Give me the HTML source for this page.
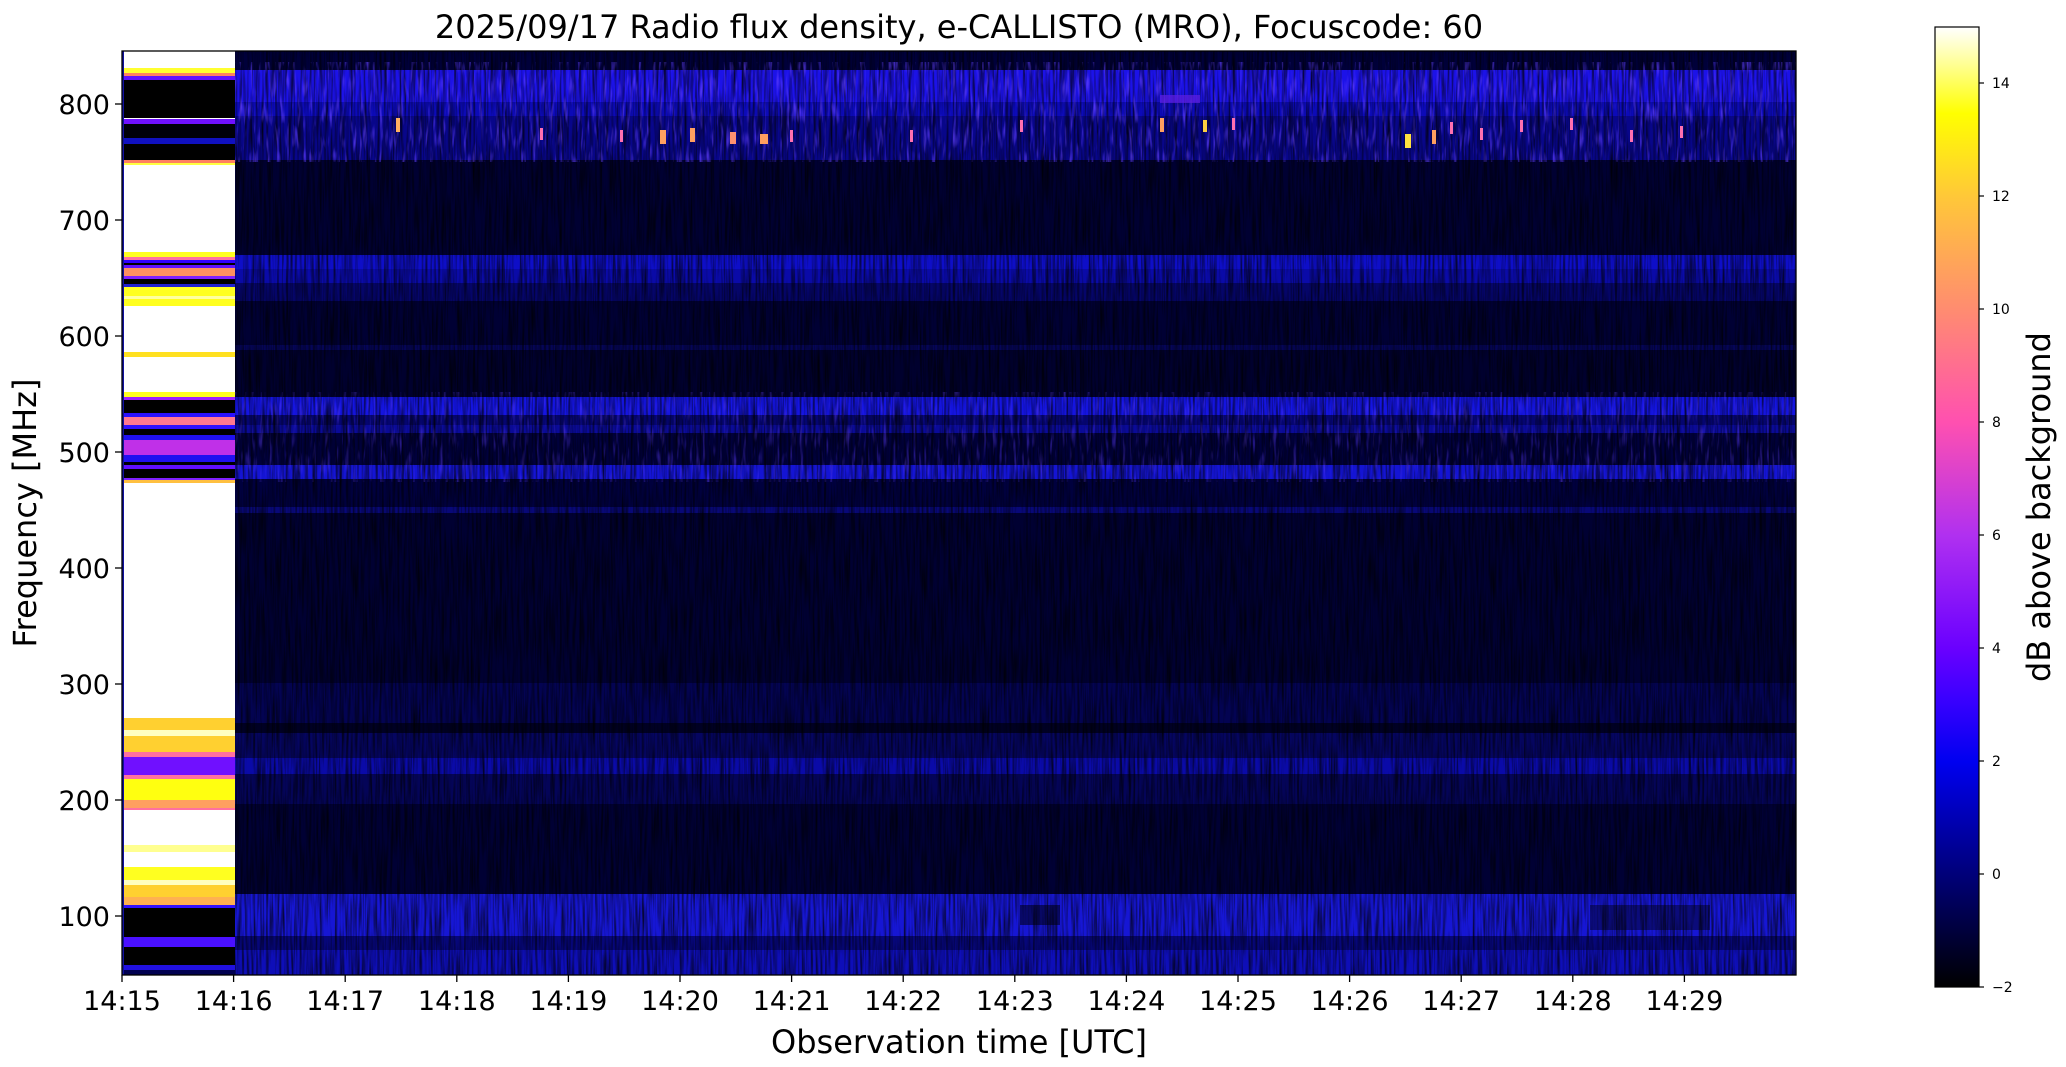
<!DOCTYPE html>
<html><head><meta charset="utf-8"><style>
html,body{margin:0;padding:0;background:#fff;}
svg{display:block;font-family:"DejaVu Sans","Liberation Sans",sans-serif;}
</style></head><body>
<svg width="2066" height="1067" viewBox="0 0 2066 1067" xmlns="http://www.w3.org/2000/svg">
<defs>
<linearGradient id="cb" x1="0" y1="1" x2="0" y2="0">
<stop offset="0" stop-color="#000000"/>
<stop offset="0.118" stop-color="#00007a"/>
<stop offset="0.235" stop-color="#0000f0"/>
<stop offset="0.3" stop-color="#3a00ff"/>
<stop offset="0.353" stop-color="#6a00ff"/>
<stop offset="0.47" stop-color="#b030f0"/>
<stop offset="0.588" stop-color="#ff50b0"/>
<stop offset="0.706" stop-color="#ff8c70"/>
<stop offset="0.824" stop-color="#ffc838"/>
<stop offset="0.91" stop-color="#ffff00"/>
<stop offset="0.96" stop-color="#ffff90"/>
<stop offset="1" stop-color="#ffffff"/>
</linearGradient>
<filter id="streak" x="0" y="0" width="100%" height="100%">
<feTurbulence type="fractalNoise" baseFrequency="0.45 0.02" numOctaves="2" seed="3"/>
<feColorMatrix type="matrix" values="0 0 0 0 0  0 0 0 0 0  0 0 0 0 0  0 0 0 -1.6 1.0"/>
</filter>
<filter id="streak2" x="0" y="0" width="100%" height="100%">
<feTurbulence type="fractalNoise" baseFrequency="0.3 0.04" numOctaves="2" seed="7"/>
<feColorMatrix type="matrix" values="0 0 0 0 0.12  0 0 0 0 0.05  0 0 0 0 1  0 0 0 2.2 -1.2"/>
</filter>
</defs>

<rect x="235" y="51" width="1561" height="924" fill="#000036"/>
<g>
<rect x="235" y="51" width="1561" height="19" fill="#00003a"/>
<rect x="235" y="70" width="1561" height="32" fill="#1c12e8"/>
<rect x="235" y="102" width="1561" height="14" fill="#0c0ab8"/>
<rect x="235" y="116" width="1561" height="44" fill="#08068a"/>
<rect x="235" y="160" width="1561" height="95" fill="#000032"/>
<rect x="235" y="255" width="1561" height="14" fill="#0e0ec8"/>
<rect x="235" y="269" width="1561" height="14" fill="#0a0aa8"/>
<rect x="235" y="283" width="1561" height="18" fill="#05056a"/>
<rect x="235" y="301" width="1561" height="44" fill="#000034"/>
<rect x="235" y="345" width="1561" height="5" fill="#050558"/>
<rect x="235" y="350" width="1561" height="47" fill="#00002e"/>
<rect x="235" y="397" width="1561" height="18" fill="#1414e0"/>
<rect x="235" y="415" width="1561" height="10" fill="#050570"/>
<rect x="235" y="425" width="1561" height="8" fill="#0a0a98"/>
<rect x="235" y="433" width="1561" height="32" fill="#00003c"/>
<rect x="235" y="465" width="1561" height="14" fill="#1414d4"/>
<rect x="235" y="479" width="1561" height="28" fill="#00003e"/>
<rect x="235" y="507" width="1561" height="6" fill="#080878"/>
<rect x="235" y="513" width="1561" height="170" fill="#000032"/>
<rect x="235" y="683" width="1561" height="40" fill="#030352"/>
<rect x="235" y="723" width="1561" height="10" fill="#000024"/>
<rect x="235" y="733" width="1561" height="25" fill="#050560"/>
<rect x="235" y="758" width="1561" height="16" fill="#0a0aa8"/>
<rect x="235" y="774" width="1561" height="30" fill="#040458"/>
<rect x="235" y="804" width="1561" height="90" fill="#000034"/>
<rect x="235" y="894" width="1561" height="42" fill="#1616d4"/>
<rect x="235" y="936" width="1561" height="14" fill="#06067a"/>
<rect x="235" y="950" width="1561" height="25" fill="#0e0eb8"/>
<rect x="1020" y="905" width="40" height="20" fill="#000020" opacity="0.6"/>
<rect x="1590" y="905" width="120" height="25" fill="#000020" opacity="0.5"/>
</g>
<rect x="235" y="51" width="1561" height="924" filter="url(#streak)"/>
<rect x="235" y="62" width="1561" height="100" filter="url(#streak2)"/>
<rect x="235" y="392" width="1561" height="90" filter="url(#streak2)" opacity="0.6"/>
<g fill="#ff70b0">
<rect x="396" y="118" width="4" height="14" fill="#ffb060"/>
<rect x="540" y="128" width="3" height="12"/>
<rect x="620" y="130" width="3" height="12"/>
<rect x="660" y="130" width="6" height="14" fill="#ffa060"/>
<rect x="690" y="128" width="5" height="14" fill="#ffa060"/>
<rect x="730" y="132" width="6" height="12" fill="#ff9070"/>
<rect x="760" y="134" width="8" height="10" fill="#ffa060"/>
<rect x="790" y="130" width="3" height="12"/>
<rect x="910" y="130" width="3" height="12"/>
<rect x="1020" y="120" width="3" height="12"/>
<rect x="1160" y="118" width="4" height="14" fill="#ffa060"/>
<rect x="1203" y="120" width="4" height="12" fill="#ffd040"/>
<rect x="1232" y="118" width="3" height="12"/>
<rect x="1405" y="134" width="6" height="14" fill="#ffe040"/>
<rect x="1432" y="130" width="4" height="14" fill="#ffa060"/>
<rect x="1450" y="122" width="3" height="12"/>
<rect x="1480" y="128" width="3" height="12"/>
<rect x="1520" y="120" width="3" height="12"/>
<rect x="1570" y="118" width="3" height="12"/>
<rect x="1630" y="130" width="3" height="12"/>
<rect x="1680" y="126" width="3" height="12"/>
<rect x="1160" y="95" width="40" height="8" fill="#6020e0" opacity="0.7"/>
</g>

<rect x="122" y="51" width="113" height="924" fill="#ffffff"/>
<g>
<rect x="122" y="68" width="113" height="5" fill="#ffff30"/>
<rect x="122" y="73" width="113" height="3" fill="#ff8060"/>
<rect x="122" y="76" width="113" height="4" fill="#6010ff"/>
<rect x="122" y="80" width="113" height="38" fill="#000000"/>
<rect x="122" y="119" width="113" height="5" fill="#7010ff"/>
<rect x="122" y="124" width="113" height="14" fill="#000008"/>
<rect x="122" y="138" width="113" height="6" fill="#1010c0"/>
<rect x="122" y="144" width="113" height="16" fill="#000000"/>
<rect x="122" y="160" width="113" height="3" fill="#ff8060"/>
<rect x="122" y="163" width="113" height="2" fill="#ffff40"/>
<rect x="122" y="252" width="113" height="5" fill="#ffff20"/>
<rect x="122" y="257" width="113" height="3" fill="#ff70a0"/>
<rect x="122" y="260" width="113" height="3" fill="#3000ff"/>
<rect x="122" y="263" width="113" height="2" fill="#000"/>
<rect x="122" y="265" width="113" height="3" fill="#6010ff"/>
<rect x="122" y="268" width="113" height="8" fill="#ff9060"/>
<rect x="122" y="276" width="113" height="3" fill="#8020ff"/>
<rect x="122" y="279" width="113" height="5" fill="#000"/>
<rect x="122" y="284" width="113" height="3" fill="#2020d0"/>
<rect x="122" y="287" width="113" height="19" fill="#ffff20"/>
<rect x="122" y="296" width="113" height="3" fill="#ffffa0"/>
<rect x="122" y="352" width="113" height="5" fill="#ffe020"/>
<rect x="122" y="392" width="113" height="5" fill="#ffff20"/>
<rect x="122" y="397" width="113" height="3" fill="#a020ff"/>
<rect x="122" y="400" width="113" height="13" fill="#000"/>
<rect x="122" y="413" width="113" height="4" fill="#2a10ff"/>
<rect x="122" y="417" width="113" height="8" fill="#ff7890"/>
<rect x="122" y="425" width="113" height="4" fill="#3010ff"/>
<rect x="122" y="429" width="113" height="6" fill="#000"/>
<rect x="122" y="435" width="113" height="5" fill="#2010f0"/>
<rect x="122" y="440" width="113" height="15" fill="#c030e8"/>
<rect x="122" y="455" width="113" height="7" fill="#2010f0"/>
<rect x="122" y="462" width="113" height="3" fill="#000"/>
<rect x="122" y="465" width="113" height="4" fill="#6010ff"/>
<rect x="122" y="469" width="113" height="9" fill="#000"/>
<rect x="122" y="478" width="113" height="2" fill="#8020ff"/>
<rect x="122" y="480" width="113" height="3" fill="#ffc040"/>
<rect x="122" y="718" width="113" height="12" fill="#ffd030"/>
<rect x="122" y="730" width="113" height="6" fill="#ffffc0"/>
<rect x="122" y="736" width="113" height="16" fill="#ffd030"/>
<rect x="122" y="752" width="113" height="5" fill="#ff70a0"/>
<rect x="122" y="757" width="113" height="18" fill="#7010ff"/>
<rect x="122" y="775" width="113" height="4" fill="#ff70a0"/>
<rect x="122" y="779" width="113" height="21" fill="#ffff10"/>
<rect x="122" y="800" width="113" height="8" fill="#ffa060"/>
<rect x="122" y="808" width="113" height="2" fill="#ff70a0"/>
<rect x="122" y="845" width="113" height="7" fill="#ffff90"/>
<rect x="122" y="867" width="113" height="13" fill="#ffff20"/>
<rect x="122" y="880" width="113" height="5" fill="#ffffc0"/>
<rect x="122" y="885" width="113" height="12" fill="#ffd030"/>
<rect x="122" y="897" width="113" height="8" fill="#ffb050"/>
<rect x="122" y="905" width="113" height="3" fill="#3010ff"/>
<rect x="122" y="908" width="113" height="29" fill="#000"/>
<rect x="122" y="937" width="113" height="10" fill="#4a10ff"/>
<rect x="122" y="947" width="113" height="18" fill="#000"/>
<rect x="122" y="965" width="113" height="5" fill="#2010e0"/>
<rect x="122" y="970" width="113" height="5" fill="#000050"/>
</g>
<rect x="122" y="51" width="2" height="924" fill="#1010a0"/>

<rect x="122" y="51" width="1674" height="924" fill="none" stroke="#000" stroke-width="1.3"/>

<g stroke="#000" stroke-width="1.3">
<line x1="115" y1="104" x2="122" y2="104"/>
<line x1="115" y1="220" x2="122" y2="220"/>
<line x1="115" y1="336" x2="122" y2="336"/>
<line x1="115" y1="452" x2="122" y2="452"/>
<line x1="115" y1="568" x2="122" y2="568"/>
<line x1="115" y1="684" x2="122" y2="684"/>
<line x1="115" y1="800" x2="122" y2="800"/>
<line x1="115" y1="916" x2="122" y2="916"/>
</g>
<g font-size="27" text-anchor="end" fill="#000">
<text x="110" y="114">800</text>
<text x="110" y="230">700</text>
<text x="110" y="346">600</text>
<text x="110" y="462">500</text>
<text x="110" y="578">400</text>
<text x="110" y="694">300</text>
<text x="110" y="810">200</text>
<text x="110" y="926">100</text>
</g>

<g stroke="#000" stroke-width="1.3">
<line x1="122" y1="975" x2="122" y2="982"/>
<line x1="233.6" y1="975" x2="233.6" y2="982"/>
<line x1="345.2" y1="975" x2="345.2" y2="982"/>
<line x1="456.8" y1="975" x2="456.8" y2="982"/>
<line x1="568.4" y1="975" x2="568.4" y2="982"/>
<line x1="680" y1="975" x2="680" y2="982"/>
<line x1="791.6" y1="975" x2="791.6" y2="982"/>
<line x1="903.2" y1="975" x2="903.2" y2="982"/>
<line x1="1014.8" y1="975" x2="1014.8" y2="982"/>
<line x1="1126.4" y1="975" x2="1126.4" y2="982"/>
<line x1="1238" y1="975" x2="1238" y2="982"/>
<line x1="1349.6" y1="975" x2="1349.6" y2="982"/>
<line x1="1461.2" y1="975" x2="1461.2" y2="982"/>
<line x1="1572.8" y1="975" x2="1572.8" y2="982"/>
<line x1="1684.4" y1="975" x2="1684.4" y2="982"/>
</g>
<g font-size="27" text-anchor="middle" fill="#000">
<text x="122" y="1010">14:15</text>
<text x="233.6" y="1010">14:16</text>
<text x="345.2" y="1010">14:17</text>
<text x="456.8" y="1010">14:18</text>
<text x="568.4" y="1010">14:19</text>
<text x="680" y="1010">14:20</text>
<text x="791.6" y="1010">14:21</text>
<text x="903.2" y="1010">14:22</text>
<text x="1014.8" y="1010">14:23</text>
<text x="1126.4" y="1010">14:24</text>
<text x="1238" y="1010">14:25</text>
<text x="1349.6" y="1010">14:26</text>
<text x="1461.2" y="1010">14:27</text>
<text x="1572.8" y="1010">14:28</text>
<text x="1684.4" y="1010">14:29</text>
</g>

<text x="959" y="1053" font-size="32" text-anchor="middle">Observation time [UTC]</text>
<text transform="translate(36,513) rotate(-90)" font-size="32" text-anchor="middle">Frequency [MHz]</text>
<text x="959" y="38" font-size="32" text-anchor="middle">2025/09/17  Radio flux density, e-CALLISTO (MRO), Focuscode: 60</text>

<rect x="1935" y="27" width="44" height="960" fill="url(#cb)" stroke="#000" stroke-width="1.2"/>
<g stroke="#000" stroke-width="1.2">
<line x1="1979" y1="987" x2="1984" y2="987"/>
<line x1="1979" y1="874" x2="1984" y2="874"/>
<line x1="1979" y1="761" x2="1984" y2="761"/>
<line x1="1979" y1="648" x2="1984" y2="648"/>
<line x1="1979" y1="535" x2="1984" y2="535"/>
<line x1="1979" y1="422" x2="1984" y2="422"/>
<line x1="1979" y1="309" x2="1984" y2="309"/>
<line x1="1979" y1="196" x2="1984" y2="196"/>
<line x1="1979" y1="83" x2="1984" y2="83"/>
</g>
<g font-size="14" fill="#000">
<text x="1992" y="992">−2</text>
<text x="1992" y="879">0</text>
<text x="1992" y="766">2</text>
<text x="1992" y="653">4</text>
<text x="1992" y="540">6</text>
<text x="1992" y="427">8</text>
<text x="1992" y="314">10</text>
<text x="1992" y="201">12</text>
<text x="1992" y="88">14</text>
</g>
<text transform="translate(2050,507) rotate(-90)" font-size="32" text-anchor="middle">dB above background</text>
</svg>
</body></html>
